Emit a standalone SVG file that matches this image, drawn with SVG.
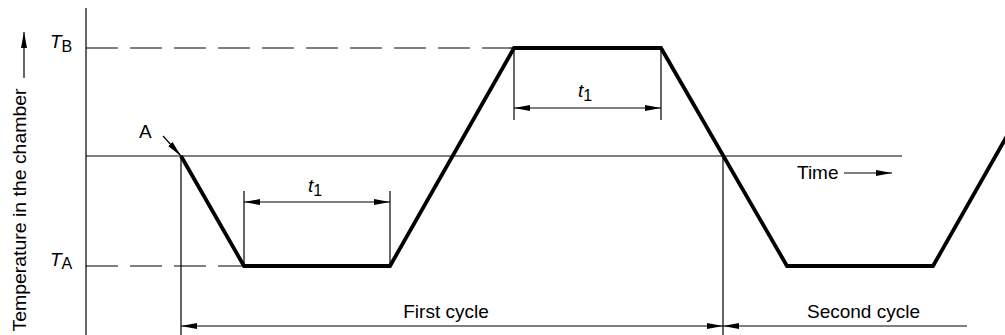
<svg xmlns="http://www.w3.org/2000/svg" width="1005" height="335" viewBox="0 0 1005 335">
<style>
.thin{stroke:#000;stroke-width:1.2;fill:none}
.dash{stroke:#000;stroke-width:1.2;fill:none;stroke-dasharray:32 12}
.thick{stroke:#000;stroke-width:3.8;fill:none;stroke-linejoin:miter}
.lbl{font-family:"Liberation Sans",Arial,sans-serif;font-size:19px;fill:#000}
.it{font-style:italic}
.sub{font-size:16px}
</style>
<defs>
<marker id="ah" markerWidth="16" markerHeight="8" refX="16" refY="4" orient="auto-start-reverse" markerUnits="userSpaceOnUse">
<path d="M0,1 L16,4 L0,7 Z" fill="#000"/>
</marker>
</defs>
<g id="axes">
<line class="thin" x1="86" y1="8" x2="86" y2="335"/>
<line class="thin" x1="86" y1="156" x2="902" y2="156"/>
<line class="dash" x1="86" y1="48" x2="514" y2="48"/>
<line class="dash" x1="86" y1="266" x2="244" y2="266"/>
<line class="thin" x1="181" y1="156" x2="181" y2="335"/>
<line class="thin" x1="723" y1="156" x2="723" y2="335"/>
</g>
<g id="curve">
<polyline class="thick" points="181,156 244,266 390,266 514,48 661,48 787,266 933,266 1057,48"/>
</g>
<g id="connectors">
<line class="thin" x1="244" y1="191" x2="244" y2="266"/>
<line class="thin" x1="390" y1="191" x2="390" y2="266"/>
<line class="thin" x1="244" y1="202" x2="390" y2="202" marker-start="url(#ah)" marker-end="url(#ah)"/>
<line class="thin" x1="514" y1="48" x2="514" y2="120"/>
<line class="thin" x1="661" y1="48" x2="661" y2="120"/>
<line class="thin" x1="514" y1="108" x2="661" y2="108" marker-start="url(#ah)" marker-end="url(#ah)"/>
<line class="thin" x1="181" y1="326" x2="723" y2="326" marker-start="url(#ah)" marker-end="url(#ah)"/>
<line class="thin" x1="967" y1="326" x2="723" y2="326" marker-end="url(#ah)"/>
<line class="thin" x1="844" y1="173" x2="892" y2="173" marker-end="url(#ah)"/>
<line class="thin" x1="163" y1="136" x2="181" y2="156" marker-end="url(#ah)"/>
<line class="thin" x1="24" y1="78" x2="24" y2="32" marker-end="url(#ah)"/>
</g>
<g id="labels">
<text class="lbl" transform="translate(26,210) rotate(-90)" text-anchor="middle" textLength="243" lengthAdjust="spacingAndGlyphs">Temperature in the chamber</text>
<text class="lbl" x="50" y="48"><tspan class="it">T</tspan><tspan class="sub" dy="4">B</tspan></text>
<text class="lbl" x="50" y="266"><tspan class="it">T</tspan><tspan class="sub" dy="3">A</tspan></text>
<text class="lbl" x="139" y="138">A</text>
<text class="lbl" x="308" y="192"><tspan class="it">t</tspan><tspan class="sub" dy="4">1</tspan></text>
<text class="lbl" x="578" y="97"><tspan class="it">t</tspan><tspan class="sub" dy="4">1</tspan></text>
<text class="lbl" x="797" y="179">Time</text>
<text class="lbl" x="446" y="318" text-anchor="middle">First cycle</text>
<text class="lbl" x="807" y="318">Second cycle</text>
</g>
</svg>
